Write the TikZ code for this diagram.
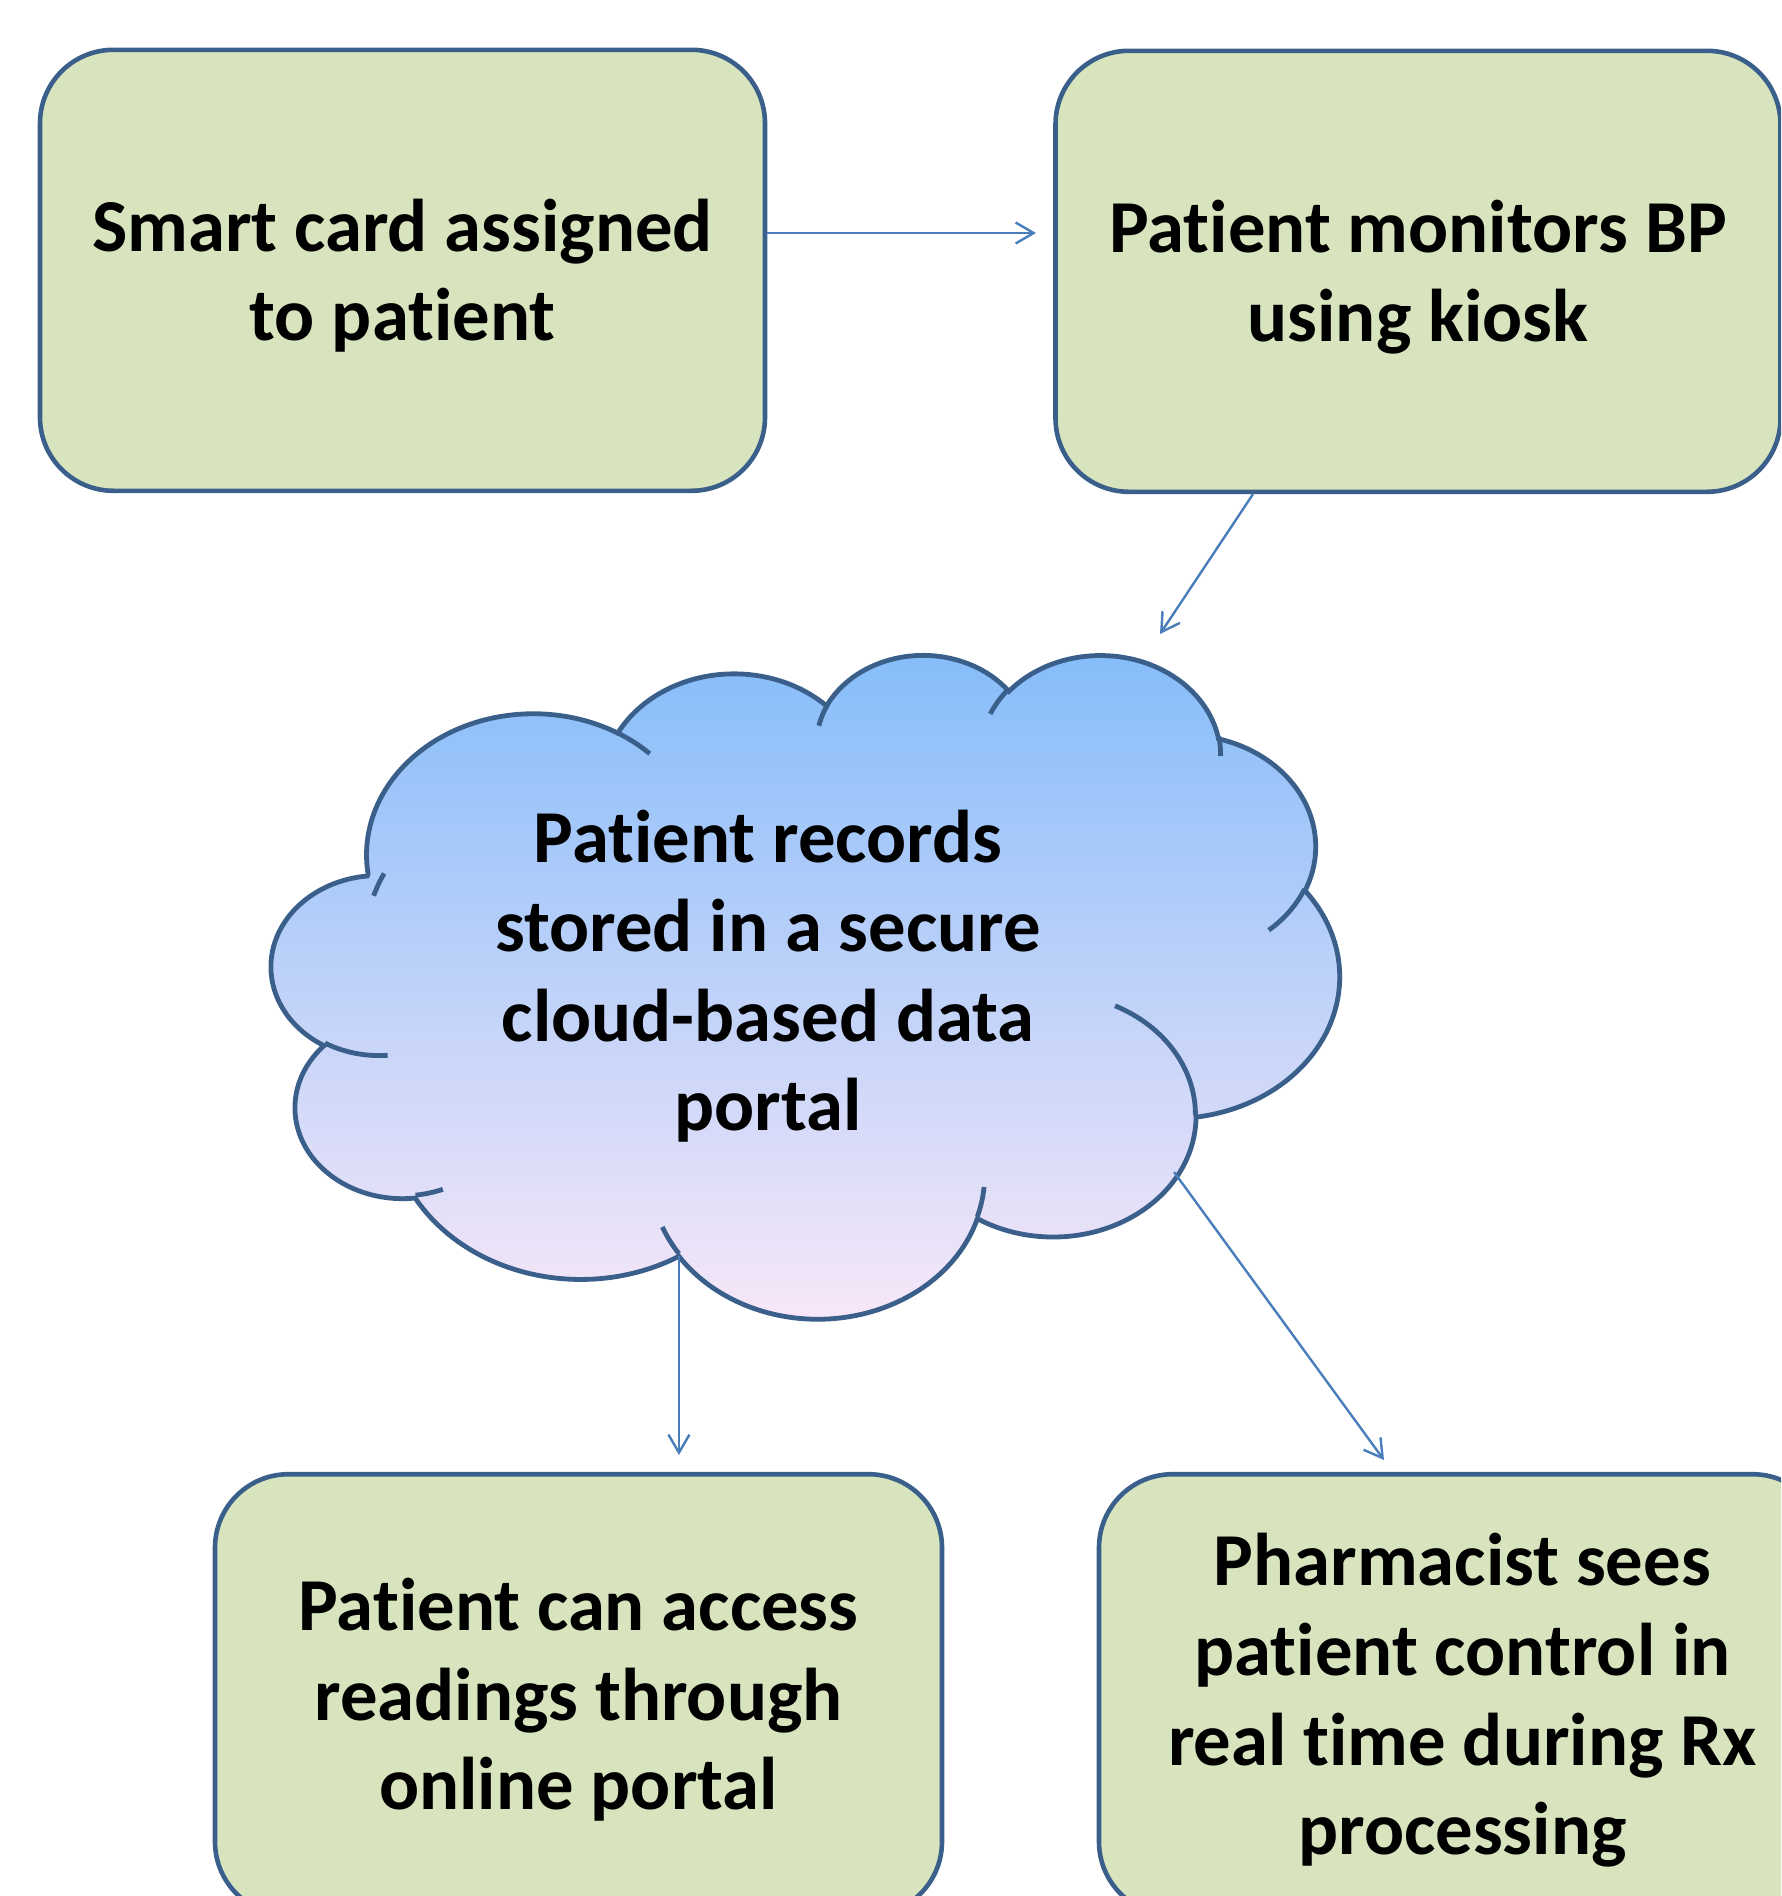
\documentclass[tikz,border=0pt]{standalone}
\usepackage{fontspec}
\setmainfont{Carlito}[Ligatures=NoCommon]
\usetikzlibrary{arrows.meta,calc}

\definecolor{boxfill}{RGB}{215,228,189}
\definecolor{boxline}{RGB}{58,95,139}
\definecolor{linkline}{RGB}{74,126,187}
\definecolor{cloudtop}{RGB}{132,188,250}
\definecolor{cloudmid}{RGB}{192,213,250}
\definecolor{cloudbot}{RGB}{250,232,248}

% every text line gets the same height and depth, so blocks centre evenly
\newcommand{\linestrut}{\rule[-19.3pt]{0pt}{89.6pt}}

\begin{document}
\begin{tikzpicture}[x=1pt, y=-1pt,
  labeltext/.style={inner sep=0pt, align=center,
    font=\fontsize{74.7}{89.6}\selectfont\bfseries},
  stepbox/.style={labeltext, draw=boxline, line width=4.6pt, fill=boxfill,
    rounded corners=73.5pt, minimum height=441pt},
  link/.style={draw=linkline, line width=2.4pt,
    -{Straight Barb[length=18pt,width=21pt]}},
  cloudline/.style={draw=boxline, line width=4.8pt},
]
\useasboundingbox (0,0) rectangle (1781,1896);
\clip (0,0) rectangle (1781,1896);

% ---------- boxes ----------
\node[stepbox, minimum width=725pt] (b1) at (402.5,270.3)
  {\linestrut Smart card assigned\\\linestrut to patient};
\node[stepbox, minimum width=725pt] (b2) at (1418,271.3)
  {\linestrut Patient monitors BP\\\linestrut using kiosk};
\node[stepbox, minimum width=727pt] (b3) at (578.5,1694.7)
  {\linestrut Patient can access\\\linestrut readings through\\\linestrut online portal};
\node[stepbox, minimum width=727pt] (b4) at (1462.5,1694.7)
  {\linestrut Pharmacist sees\\\linestrut patient control in\\\linestrut real time during Rx\\\linestrut processing};

% ---------- cloud ----------
\begin{scope}[shift={(271.7,653.2)}, xscale=2.4711, yscale=1.5361]
  \path[cloudline, top color=cloudtop, middle color=cloudmid, bottom color=cloudbot]
    (39.00,143.70)
    arc[x radius=67.53, y radius=91.90, start angle=-187.75, end angle=-59.64]
    arc[x radius=53.33, y radius=72.67, start angle=-152.02, end angle=-45.44]
    arc[x radius=43.65, y radius=59.45, start angle=-153.49, end angle=-37.32]
    arc[x radius=48.57, y radius=65.95, start angle=-139.72, end angle=-10.22]
    arc[x radius=53.33, y radius=72.73, start angle=-74.77, end angle=23.21]
    arc[x radius=67.75, y radius=92.20, start angle=-37.53, end angle=81.86]
    arc[x radius=57.85, y radius=78.67, start angle=0.46, end angle=121.98]
    arc[x radius=67.52, y radius=92.15, start angle=16.84, end angle=146.25]
    coordinate (cloudjoin)
    arc[x radius=77.20, y radius=105.43, start angle=59.00, end angle=150.17]
    arc[x radius=43.60, y radius=59.18, start angle=83.31, end angle=223.12]
    arc[x radius=43.45, y radius=59.45, start angle=120.36, end angle=264.11]
    -- cycle;
  % inner puff strokes
  \draw[cloudline] (46.93,261.77) arc[x radius=43.45, y radius=59.45, start angle=85.54, end angle=120.36];
  \draw[cloudline] (69.28,348.99) arc[x radius=43.60, y radius=59.18, start angle=68.24, end angle=83.31];
  \draw[cloudline] (164.78,390.90) arc[x radius=67.52, y radius=92.15, start angle=146.25, end angle=158.47];
  \draw[cloudline] (288.27,347.51) arc[x radius=67.52, y radius=92.15, start angle=4.74, end angle=16.84];
  \draw[cloudline] (341.29,229.54) arc[x radius=57.85, y radius=78.67, start angle=-64.03, end angle=0.46];
  \draw[cloudline] (417.98,153.54) arc[x radius=53.33, y radius=72.73, start angle=23.21, end angle=49.66];
  \draw[cloudline] (383.24,54.26) arc[x radius=48.57, y radius=65.95, start angle=-10.22, end angle=0.83];
  \draw[cloudline] (290.78,39.52) arc[x radius=48.57, y radius=65.95, start angle=-156.29, end angle=-139.72];
  \draw[cloudline] (221.41,47.20) arc[x radius=43.65, y radius=59.45, start angle=-167.72, end angle=-153.49];
  \draw[cloudline] (140.00,51.92) arc[x radius=67.53, y radius=91.90, start angle=-59.64, end angle=-45.75];
  \draw[cloudline] (41.27,157.89) arc[x radius=67.53, y radius=91.90, start angle=-163.19, end angle=-153.45];
\end{scope}

\node[labeltext] (cloud) at (768,971)
  {\linestrut Patient records\\\linestrut stored in a secure\\\linestrut cloud-based data\\\linestrut portal};

% ---------- connectors ----------
\coordinate (c1e) at (1036,233);
\coordinate (c2e) at (1160,634);
\coordinate (c3e) at (680,1455);
\coordinate (cloudse) at (1174,1172);
\coordinate (c4e) at (1384,1460);

\draw[link] (b1.east |- c1e) -- (c1e);
\draw[link] ($(b2.south)+(-165,0)$) -- (c2e);
\draw[link] (cloudjoin) -- (cloudjoin |- c3e);
\draw[link] (cloudse) -- (c4e);
\end{tikzpicture}
\end{document}
